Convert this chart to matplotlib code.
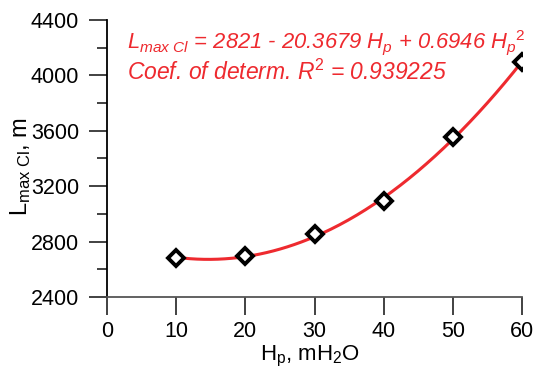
'''Fit of L_max Cl vs H_p'''

import numpy as np
import matplotlib
matplotlib.use('Agg')
import matplotlib.pyplot as plt
from matplotlib.ticker import MultipleLocator

plt.rcParams['font.family'] = ['Liberation Sans', 'DejaVu Sans']
plt.rcParams['mathtext.fontset'] = 'custom'
plt.rcParams['mathtext.rm'] = 'Liberation Sans'
plt.rcParams['mathtext.it'] = 'Liberation Sans:italic'
plt.rcParams['mathtext.bf'] = 'Liberation Sans:bold'

# measured points
hp = [10, 20, 30, 40, 50, 60]
lmax = [2681, 2697, 2852, 3090, 3553, 4098]

# fit coefficients as printed on the chart
c0, c1, c2 = 2821, -20.3679, 0.6946

RED = '#ee2a2f'

fig = plt.figure(figsize=(5.34, 3.70), dpi=100)
ax = fig.add_axes([107 / 534, 1 - 297 / 370, (522 - 107) / 534, (297 - 20) / 370])

x_fit = np.linspace(hp[0], hp[-1], 200)
ax.plot(x_fit, c0 + c1 * x_fit + c2 * x_fit**2, color=RED, lw=2.2, zorder=2)
ax.plot(hp, lmax, 'D', ms=8.5, mfc='white', mec='black', mew=2.8, zorder=3)

ax.set_xlim(0, 60)
ax.set_ylim(2400, 4400)
ax.xaxis.set_major_locator(MultipleLocator(10))
ax.yaxis.set_major_locator(MultipleLocator(400))
ax.yaxis.set_minor_locator(MultipleLocator(200))

for s in ['top', 'right']:
    ax.spines[s].set_visible(False)
ax.spines['left'].set_color('black')
ax.spines['bottom'].set_color('#555555')
ax.spines['left'].set_linewidth(1.3)
ax.spines['bottom'].set_linewidth(1.3)
ax.tick_params(which='major', direction='out', length=13, width=1.3,
               labelsize=15.5, colors='#333333', labelcolor='black')
ax.tick_params(which='minor', direction='out', length=7, width=1.3, colors='#333333')
ax.tick_params(axis='y', pad=7)
ax.tick_params(axis='x', pad=4.5)

ax.set_xlabel(r'H$_\mathrm{p}$, mH$_2$O', fontsize=16)
ax.set_ylabel(r'L$_\mathrm{max\ Cl}$, m', fontsize=17)
ax.xaxis.set_label_coords(0.49, -0.168)
ax.yaxis.set_label_coords(-0.178, 0.47)

ax.text(0.048, 0.898,
        r'$L_{max\ Cl}$ = 2821 - 20.3679 $H_p$ + 0.6946 $H_p$$^2$',
        transform=ax.transAxes, color=RED, fontsize=15.8, style='italic')
ax.text(0.048, 0.785, r'Coef. of determ. R$^2$ = 0.939225',
        transform=ax.transAxes, color=RED, fontsize=16.5, style='italic')

fig.savefig('out.png', dpi=100)
